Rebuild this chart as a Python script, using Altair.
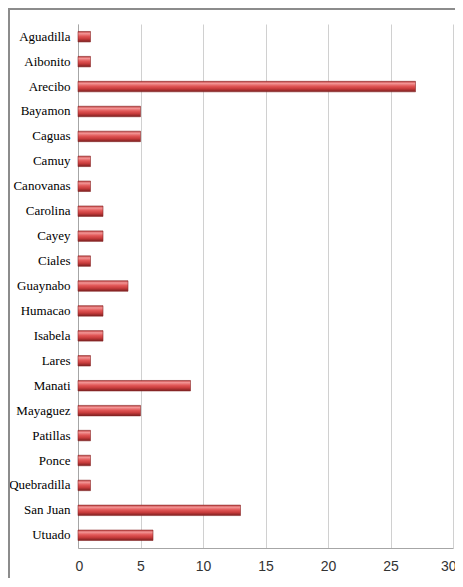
import altair as alt
import pandas as pd

cities = ["Aguadilla", "Aibonito", "Arecibo", "Bayamon", "Caguas", "Camuy", "Canovanas",
          "Carolina", "Cayey", "Ciales", "Guaynabo", "Humacao", "Isabela", "Lares",
          "Manati", "Mayaguez", "Patillas", "Ponce", "Quebradilla", "San Juan", "Utuado"]
counts = [1, 1, 27, 5, 5, 1, 1, 2, 2, 1, 4, 2, 2, 1, 9, 5, 1, 1, 1, 13, 6]
x_ticks = [0, 5, 10, 15, 20, 25, 30]

df = pd.DataFrame({"city": cities, "count": counts})

grad = alt.Gradient(
    gradient="linear", x1=0, x2=0, y1=0, y2=1,
    stops=[
        alt.GradientStop(color="#c04040", offset=0),
        alt.GradientStop(color="#f29595", offset=0.2),
        alt.GradientStop(color="#e25858", offset=0.45),
        alt.GradientStop(color="#c83c3c", offset=0.7),
        alt.GradientStop(color="#7a1f1f", offset=1),
    ],
)

bars = alt.Chart(df).mark_bar(color=grad, stroke="#8a2a2a", strokeWidth=0.6).encode(
    y=alt.Y("city:N", sort=cities, title=None,
            scale=alt.Scale(paddingInner=0.58, paddingOuter=0.3),
            axis=alt.Axis(labelFont="Times New Roman, Liberation Serif, DejaVu Serif, serif",
                          labelFontSize=13, labelColor="#000000",
                          ticks=False, labelPadding=8, domainColor="#a6a6a6", grid=False)),
    x=alt.X("count:Q", title=None,
            scale=alt.Scale(domain=[0, 30], nice=False),
            axis=alt.Axis(values=x_ticks, labelFont="Liberation Sans Narrow, Liberation Sans, sans-serif",
                          labelFontSize=14, labelColor="#333333", ticks=False, labelPadding=11,
                          labelFlush=True, labelFlushOffset=3,
                          domainColor="#a6a6a6", gridColor="#d0d0d0", grid=True)),
)

top_border = alt.Chart(df).mark_rule(color="#8c8c8c", strokeWidth=1.5, clip=False).encode(
    x=alt.value(-69.5), x2=alt.value(400), y=alt.value(-15.5)
)
left_border = alt.Chart(df).mark_rule(color="#8c8c8c", strokeWidth=1.5, clip=False).encode(
    x=alt.value(-69.5), y=alt.value(-15.5), y2=alt.value(560)
)

chart = alt.layer(bars, top_border, left_border).properties(
    width=375, height=524,
    autosize=alt.AutoSizeParams(type="none"),
    padding={"left": 70, "top": 16, "right": 2, "bottom": 30},
    background="white",
).configure_view(stroke=None)

chart.save("out.html", embed_options={"renderer": "svg", "actions": False})
